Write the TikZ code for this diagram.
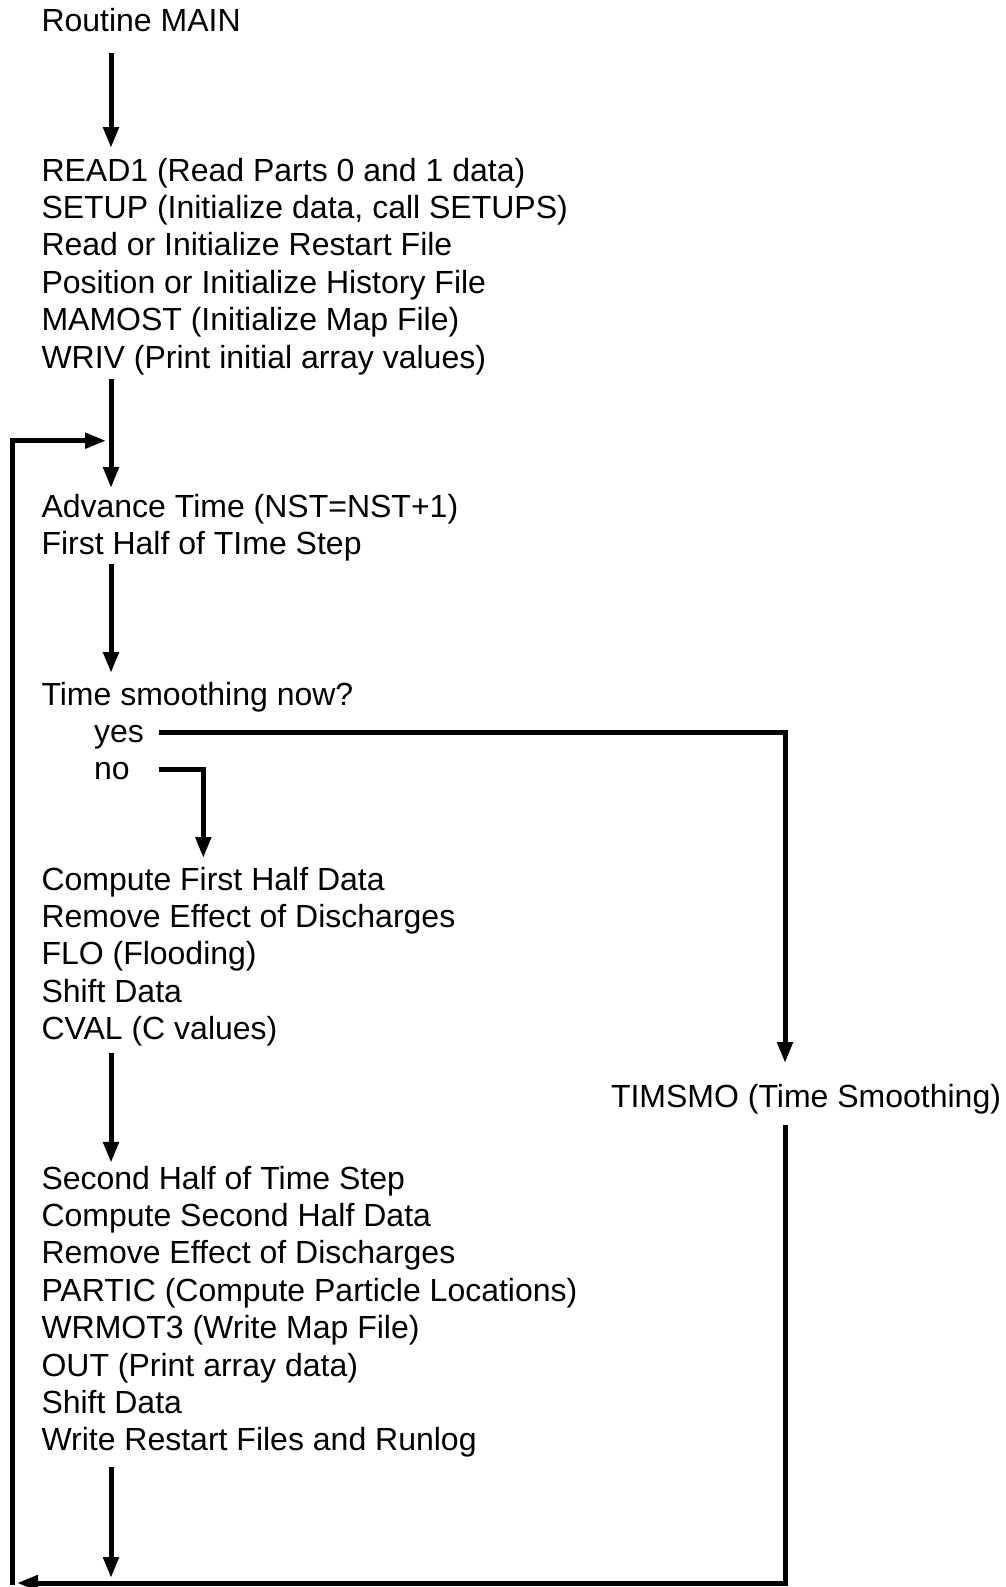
\documentclass[tikz,border=0pt]{standalone}
\usepackage{fontspec}
\setmainfont{Liberation Sans}
\usetikzlibrary{arrows.meta,calc}
\begin{document}
\begin{tikzpicture}[x=1pt,y=1pt,
  txt/.style={anchor=base west, inner sep=0pt, outer sep=0pt, align=left,
    font=\fontsize{32}{37.4}\selectfont},
  blk/.style={txt, anchor=north west},
  flow/.style={line width=5pt, -{Triangle[length=21pt,width=15pt]}}]
\useasboundingbox (0,0) rectangle (1006,-1587);

% reference columns and rows for the connectors
\coordinate (col)   at (111,0);
\coordinate (rt)    at (785,0);
\coordinate (lf)    at (12.5,0);
\coordinate (nx)    at (203.3,0);
\coordinate (stub)  at (158.5,0);
\coordinate (bot)   at (0,-1583);
\coordinate (loopy) at (0,-440.7);

% text blocks (multi-line blocks hang from the top of their first strut)
\node[txt] (main) at (41.5,-32) {\strut Routine MAIN};
\node[blk] (init) at (41.5,-154.82) {\strut READ1 (Read Parts 0 and 1 data)\\
  SETUP (Initialize data, call SETUPS)\\
  Read or Initialize Restart File\\
  Position or Initialize History File\\
  MAMOST (Initialize Map File)\\
  \strut WRIV (Print initial array values)};
\node[blk] (adv) at (41.5,-490.82) {\strut Advance Time (NST=NST+1)\\
  \strut First Half of TIme Step};
\node[txt] (ask) at (41.5,-705) {\strut Time smoothing now?};
\node[txt] (yes) at (94,-742.3) {\strut yes};
\node[txt] (no)  at (94,-779.7) {\strut no};
\node[blk] (fh) at (41.5,-863.82) {\strut Compute First Half Data\\
  Remove Effect of Discharges\\
  FLO (Flooding)\\
  Shift Data\\
  \strut CVAL (C values)};
\node[txt] (tims) at (611,-1107) {\strut TIMSMO (Time Smoothing)};
\node[blk] (sh) at (41.5,-1162.82) {\strut Second Half of Time Step\\
  Compute Second Half Data\\
  Remove Effect of Discharges\\
  PARTIC (Compute Particle Locations)\\
  WRMOT3 (Write Map File)\\
  OUT (Print array data)\\
  Shift Data\\
  \strut Write Restart Files and Runlog};

% main flow
\draw[flow] ($(main.south -| col)+(0,-9.8)$) -- ($(init.north -| col)+(0,6.8)$);
\draw[flow] (init.south -| col) -- ($(adv.north -| col)+(0,2.8)$);
\draw[flow] ($(adv.south -| col)+(0,2)$) -- ($(ask.north -| col)+(0,5.8)$);
\draw[flow] ($(yes.base -| stub)+(0,10)$) -| ($(tims.north -| rt)+(0,17.8)$);
\draw[flow] ($(no.base -| stub)+(0,10.7)$) -| ($(fh.north -| nx)+(0,5.8)$);
\draw[flow] ($(fh.south -| col)+(0,-1.7)$) -- (sh.north -| col);
\draw[flow] ($(sh.south -| col)+(0,-5)$) -- ($(col |- bot)+(0,5)$);
\draw[flow] ($(tims.south -| rt)+(0,-6.8)$) |- ($(lf |- bot)+(4.5,0)$);

% loop back to the start of the time step
\coordinate (join) at ($(col |- loopy)+(-5,0)$);
\draw[flow] ($(lf |- bot)+(0,-2.2)$) -- (lf |- loopy) -- (join);
\end{tikzpicture}
\end{document}
